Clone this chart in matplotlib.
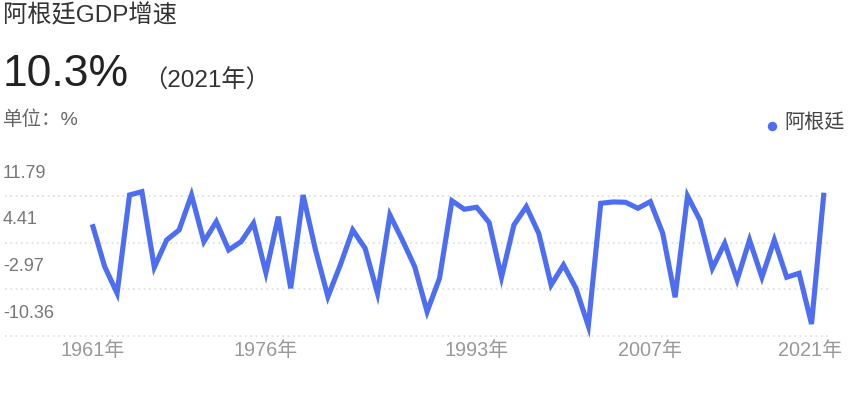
import matplotlib
matplotlib.use("Agg")
import matplotlib.pyplot as plt
from matplotlib.lines import Line2D

# ---- data ----
years = [1961, 1962, 1963, 1964, 1965, 1966, 1967, 1968, 1969, 1970,
         1971, 1972, 1973, 1974, 1976, 1977, 1978, 1979, 1980, 1981,
         1982, 1983, 1984, 1985, 1986, 1987, 1988, 1989, 1990, 1991,
         1992, 1993, 1994, 1995, 1996, 1997, 1998, 1999, 2000, 2001,
         2002, 2003, 2004, 2005, 2006, 2007, 2008, 2009, 2010, 2011,
         2012, 2013, 2014, 2015, 2016, 2017, 2018, 2019, 2020, 2021]
growth = [5.43, -1.30, -5.52, 10.08, 10.60, -1.40, 2.94, 4.52, 10.08, 2.67,
          5.84, 1.35, 2.67, 5.59, -2.25, 6.63, -4.73, 10.08, 1.35, -6.06,
          -1.03, 4.52, 1.62, -5.52, 6.90, 2.94, -1.30, -8.44, -3.14, 9.16,
          7.81, 8.13, 5.71, -2.98, 5.32, 8.22, 4.00, -4.21, -1.03, -4.73,
          -10.71, 8.76, 8.97, 8.92, 7.97, 9.02, 4.00, -6.16, 9.92, 6.11,
          -1.56, 2.41, -3.41, 2.94, -2.98, 2.94, -2.98, -2.35, -10.40, 10.44]
xtick_years = [1961, 1976, 1993, 2007, 2021]
ytick_vals = [11.79, 4.41, -2.97, -10.36]
ytick_labels = ["11.79", "4.41", "-2.97", "-10.36"]
title = "阿根廷GDP增速"
headline_value = "10.3%"
headline_year = "（2021年）"
unit_text = "单位：%"
series_name = "阿根廷"

# ---- style ----
W, H = 866, 403
BLUE = "#4e6ef2"
GRID_SHIFT = 1.95
plt.rcParams["font.family"] = ["Liberation Sans", "Noto Sans CJK SC"]

fig = plt.figure(figsize=(W / 100, H / 100), dpi=100)


def fx(px):
    return px / W


def fy(py):
    return 1 - py / H


ax = fig.add_axes([fx(5), fy(340), fx(825), 180 / H])
for s in ax.spines.values():
    s.set_visible(False)
ax.set_xticks([])
ax.set_yticks([])

xs = list(range(len(years)))
ax.plot(xs, growth, color=BLUE, lw=3.7, solid_joinstyle="miter",
        solid_capstyle="butt", zorder=3)
ax.set_xlim(-7.04, 59.49)
ax.set_ylim(-12.94, 15.63)

for v, lab in zip(ytick_vals, ytick_labels):
    g = v - GRID_SHIFT
    ax.axhline(g, color="#dedede", lw=1.2, ls=(0, (1, 2.2)), zorder=1)
    ax.annotate(lab, xy=(0, g), xycoords=("axes fraction", "data"),
                xytext=(-2, 23), textcoords="offset pixels",
                ha="left", va="center", fontsize=13, color="#777777")

xt = ax.get_xaxis_transform()
for yr in xtick_years:
    i = years.index(yr)
    off = -14 if yr == xtick_years[-1] else 0
    ax.annotate(f"{yr}年", xy=(i, 0), xycoords=xt,
                xytext=(off, -10), textcoords="offset pixels",
                ha="center", va="center", fontsize=14.3, color="#999999")

fig.text(fx(3), fy(16), title, fontsize=17.5, color="#333333", va="center")
fig.text(fx(3), fy(74), headline_value, fontsize=32, color="#222222", va="center")
fig.text(fx(143), fy(81), headline_year, fontsize=17.5, color="#333333", va="center")
fig.text(fx(3), fy(120), unit_text, fontsize=14, color="#666666", va="center")

fig.add_artist(Line2D([fx(771.5)], [fy(125.5)], marker="o", ms=5.8,
                      color=BLUE, transform=fig.transFigure))
fig.text(fx(784), fy(122), series_name, fontsize=14.5, color="#444444", va="center")

fig.savefig("out.png", dpi=100)
